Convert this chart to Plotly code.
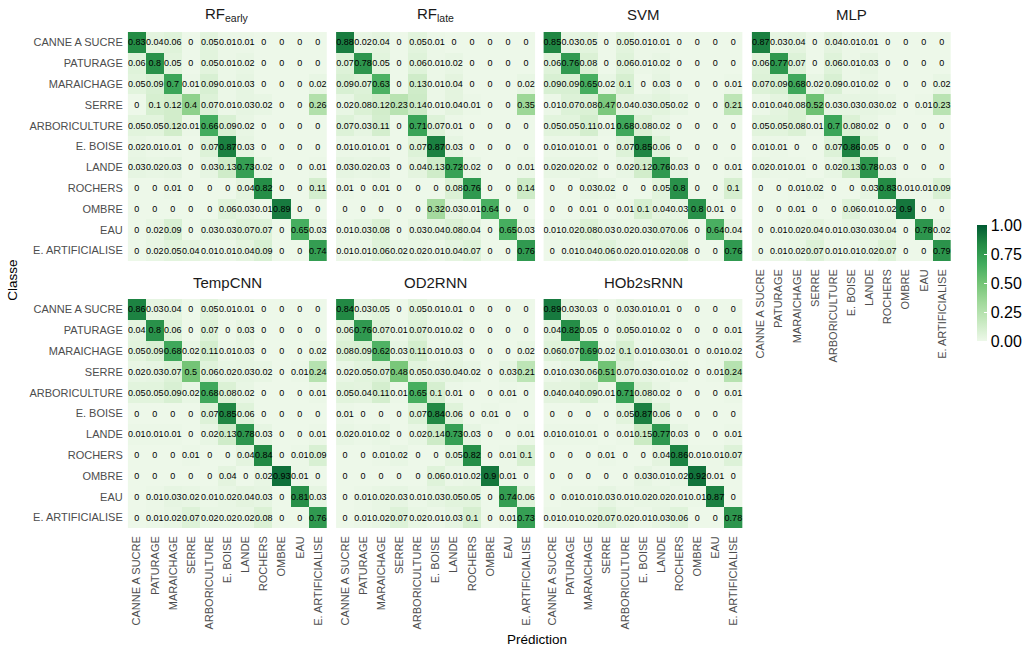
import plotly.graph_objects as go

classes = ["CANNE A SUCRE", "PATURAGE", "MARAICHAGE", "SERRE", "ARBORICULTURE",
           "E. BOISE", "LANDE", "ROCHERS", "OMBRE", "EAU", "E. ARTIFICIALISE"]

rf_early = [
    [0.83, 0.04, 0.06, 0, 0.05, 0.01, 0.01, 0, 0, 0, 0],
    [0.06, 0.8, 0.05, 0, 0.05, 0.01, 0.02, 0, 0, 0, 0],
    [0.05, 0.09, 0.7, 0.01, 0.09, 0.01, 0.03, 0, 0, 0, 0.02],
    [0, 0.1, 0.12, 0.4, 0.07, 0.01, 0.03, 0.02, 0, 0, 0.26],
    [0.05, 0.05, 0.12, 0.01, 0.66, 0.09, 0.02, 0, 0, 0, 0],
    [0.02, 0.01, 0.01, 0, 0.07, 0.87, 0.03, 0, 0, 0, 0],
    [0.03, 0.02, 0.03, 0, 0.03, 0.13, 0.73, 0.02, 0, 0, 0.01],
    [0, 0, 0.01, 0, 0, 0, 0.04, 0.82, 0, 0, 0.11],
    [0, 0, 0, 0, 0, 0.06, 0.03, 0.01, 0.89, 0, 0],
    [0, 0.02, 0.09, 0, 0.03, 0.03, 0.07, 0.07, 0, 0.65, 0.03],
    [0, 0.02, 0.05, 0.04, 0.01, 0.01, 0.04, 0.09, 0, 0, 0.74],
]

rf_late = [
    [0.88, 0.02, 0.04, 0, 0.05, 0.01, 0, 0, 0, 0, 0],
    [0.07, 0.78, 0.05, 0, 0.06, 0.01, 0.02, 0, 0, 0, 0],
    [0.09, 0.07, 0.63, 0, 0.13, 0.01, 0.04, 0, 0, 0, 0.02],
    [0.02, 0.08, 0.12, 0.23, 0.14, 0.01, 0.04, 0.01, 0, 0, 0.35],
    [0.07, 0.03, 0.11, 0, 0.71, 0.07, 0.01, 0, 0, 0, 0],
    [0.01, 0.01, 0.01, 0, 0.07, 0.87, 0.03, 0, 0, 0, 0],
    [0.03, 0.02, 0.03, 0, 0.04, 0.13, 0.72, 0.02, 0, 0, 0.01],
    [0.01, 0, 0.01, 0, 0, 0, 0.08, 0.76, 0, 0, 0.14],
    [0, 0, 0, 0, 0, 0.32, 0.03, 0.01, 0.64, 0, 0],
    [0.01, 0.03, 0.08, 0, 0.03, 0.04, 0.08, 0.04, 0, 0.65, 0.03],
    [0.01, 0.01, 0.06, 0.02, 0.02, 0.01, 0.04, 0.07, 0, 0, 0.76],
]

svm = [
    [0.85, 0.03, 0.05, 0, 0.05, 0.01, 0.01, 0, 0, 0, 0],
    [0.06, 0.76, 0.08, 0, 0.06, 0.01, 0.02, 0, 0, 0, 0],
    [0.09, 0.09, 0.65, 0.02, 0.1, 0, 0.03, 0, 0, 0, 0.01],
    [0.01, 0.07, 0.08, 0.47, 0.04, 0.03, 0.05, 0.02, 0, 0, 0.21],
    [0.05, 0.05, 0.11, 0.01, 0.68, 0.08, 0.02, 0, 0, 0, 0],
    [0.01, 0.01, 0.01, 0, 0.07, 0.85, 0.06, 0, 0, 0, 0],
    [0.02, 0.02, 0.02, 0, 0.02, 0.12, 0.76, 0.03, 0, 0, 0.01],
    [0, 0, 0.03, 0.02, 0, 0, 0.05, 0.8, 0, 0, 0.1],
    [0, 0, 0.01, 0, 0.01, 0.1, 0.04, 0.03, 0.8, 0.01, 0],
    [0.01, 0.02, 0.08, 0.03, 0.02, 0.03, 0.07, 0.06, 0, 0.64, 0.04],
    [0, 0.01, 0.04, 0.06, 0.02, 0.01, 0.02, 0.08, 0, 0, 0.76],
]

mlp = [
    [0.87, 0.03, 0.04, 0, 0.04, 0.01, 0.01, 0, 0, 0, 0],
    [0.06, 0.77, 0.07, 0, 0.06, 0.01, 0.03, 0, 0, 0, 0],
    [0.07, 0.09, 0.68, 0.02, 0.09, 0.01, 0.02, 0, 0, 0, 0.02],
    [0.01, 0.04, 0.08, 0.52, 0.03, 0.03, 0.03, 0.02, 0, 0.01, 0.23],
    [0.05, 0.05, 0.08, 0.01, 0.7, 0.08, 0.02, 0, 0, 0, 0],
    [0.01, 0.01, 0, 0, 0.07, 0.86, 0.05, 0, 0, 0, 0],
    [0.02, 0.01, 0.01, 0, 0.02, 0.13, 0.78, 0.03, 0, 0, 0],
    [0, 0, 0.01, 0.02, 0, 0, 0.03, 0.83, 0.01, 0.01, 0.09],
    [0, 0, 0.01, 0, 0, 0.06, 0.01, 0.02, 0.9, 0, 0],
    [0, 0.01, 0.02, 0.04, 0.01, 0.03, 0.03, 0.04, 0, 0.78, 0.02],
    [0, 0.01, 0.02, 0.07, 0.01, 0.01, 0.02, 0.07, 0, 0, 0.79],
]

tempcnn = [
    [0.86, 0.03, 0.04, 0, 0.05, 0.01, 0.01, 0, 0, 0, 0],
    [0.04, 0.8, 0.06, 0, 0.07, 0, 0.03, 0, 0, 0, 0],
    [0.05, 0.09, 0.68, 0.02, 0.11, 0.01, 0.03, 0, 0, 0, 0.02],
    [0.02, 0.03, 0.07, 0.5, 0.06, 0.02, 0.03, 0.02, 0, 0.01, 0.24],
    [0.05, 0.05, 0.09, 0.02, 0.68, 0.08, 0.02, 0, 0, 0, 0.01],
    [0, 0, 0, 0, 0.07, 0.85, 0.06, 0, 0, 0, 0],
    [0.01, 0.01, 0.01, 0, 0.02, 0.13, 0.78, 0.03, 0, 0, 0.01],
    [0, 0, 0, 0.01, 0, 0, 0.04, 0.84, 0, 0.01, 0.09],
    [0, 0, 0, 0, 0, 0.04, 0, 0.02, 0.93, 0.01, 0],
    [0, 0.01, 0.03, 0.02, 0.01, 0.02, 0.04, 0.03, 0, 0.81, 0.03],
    [0, 0.01, 0.02, 0.07, 0.02, 0.02, 0.02, 0.08, 0, 0, 0.76],
]

od2rnn = [
    [0.84, 0.03, 0.05, 0, 0.05, 0.01, 0.01, 0, 0, 0, 0],
    [0.06, 0.76, 0.07, 0.01, 0.07, 0.01, 0.02, 0, 0, 0, 0],
    [0.08, 0.09, 0.62, 0.03, 0.11, 0.01, 0.03, 0, 0, 0, 0.02],
    [0.02, 0.05, 0.07, 0.48, 0.05, 0.03, 0.04, 0.02, 0, 0.03, 0.21],
    [0.05, 0.04, 0.11, 0.01, 0.65, 0.1, 0.01, 0, 0, 0.01, 0],
    [0.01, 0, 0, 0, 0.07, 0.84, 0.06, 0, 0.01, 0, 0],
    [0.02, 0.01, 0.02, 0, 0.02, 0.14, 0.73, 0.03, 0, 0, 0.01],
    [0, 0, 0.01, 0.02, 0, 0, 0.05, 0.82, 0, 0.01, 0.1],
    [0, 0, 0, 0, 0, 0.06, 0.01, 0.02, 0.9, 0.01, 0],
    [0, 0.01, 0.02, 0.03, 0.01, 0.03, 0.05, 0.05, 0, 0.74, 0.06],
    [0, 0.01, 0.02, 0.07, 0.02, 0.01, 0.03, 0.1, 0, 0.01, 0.73],
]

hob2srnn = [
    [0.89, 0.03, 0.03, 0, 0.03, 0.01, 0.01, 0, 0, 0, 0],
    [0.04, 0.82, 0.05, 0, 0.05, 0.01, 0.02, 0, 0, 0, 0.01],
    [0.06, 0.07, 0.69, 0.02, 0.1, 0.01, 0.03, 0.01, 0, 0.01, 0.02],
    [0.01, 0.03, 0.06, 0.51, 0.07, 0.03, 0.01, 0.02, 0, 0.01, 0.24],
    [0.04, 0.04, 0.09, 0.01, 0.71, 0.08, 0.02, 0, 0, 0, 0.01],
    [0, 0, 0, 0, 0.05, 0.87, 0.06, 0, 0, 0, 0],
    [0.01, 0.01, 0.01, 0, 0.01, 0.15, 0.77, 0.03, 0, 0, 0.01],
    [0, 0, 0, 0.01, 0, 0, 0.04, 0.86, 0.01, 0.01, 0.07],
    [0, 0, 0, 0, 0, 0.03, 0.01, 0.02, 0.92, 0.01, 0],
    [0, 0.01, 0.01, 0.03, 0.01, 0.02, 0.02, 0.01, 0.01, 0.87, 0],
    [0.01, 0.01, 0.02, 0.07, 0.02, 0.01, 0.03, 0.06, 0, 0, 0.78],
]

model_titles = ["RF<sub>early</sub>", "RF<sub>late</sub>", "SVM", "MLP",
                "TempCNN", "OD2RNN", "HOb2sRNN"]
matrices = [rf_early, rf_late, svm, mlp, tempcnn, od2rnn, hob2srnn]

W, H = 1035, 649
FONT = "Liberation Sans, Arial, sans-serif"
greens = ["#EDF8E9", "#C7E9C0", "#A1D99B", "#74C476", "#41AB5D", "#238B45", "#005A32"]
colorscale = [[i / (len(greens) - 1), c] for i, c in enumerate(greens)]

# panel grid in pixels
col_left = [130, 342, 553, 765]
panel_w = 203
row_top = [32, 299]
panel_h = 229


def fx(px):
    return px / W


def fy(py):
    return 1 - py / H


fig = go.Figure()
layout_axes = {}

for k, (title, mat) in enumerate(zip(model_titles, matrices)):
    r, c = divmod(k, 4)
    idx = k + 1
    xa = "x" if idx == 1 else f"x{idx}"
    ya = "y" if idx == 1 else f"y{idx}"
    text = [[f"{v:g}" for v in row] for row in mat]
    fig.add_trace(go.Heatmap(
        z=mat, x=classes, y=classes, text=text,
        texttemplate="%{text}",
        textfont=dict(size=9, color="black", family=FONT),
        coloraxis="coloraxis", xaxis=xa, yaxis=ya,
        hoverinfo="skip", xgap=0, ygap=0,
    ))
    x0 = col_left[c]
    y0 = row_top[r]
    show_x = (r == 1) or (c == 3)
    show_y = (c == 0)
    xname = "xaxis" if idx == 1 else f"xaxis{idx}"
    yname = "yaxis" if idx == 1 else f"yaxis{idx}"
    layout_axes[xname] = dict(
        domain=[fx(x0), fx(x0 + panel_w)], anchor=ya,
        showticklabels=show_x, tickangle=-90, ticks="",
        ticklabelstandoff=5,
        tickfont=dict(size=11, color="#4D4D4D", family=FONT),
        showgrid=False, zeroline=False, showline=False,
        categoryorder="array", categoryarray=classes,
    )
    layout_axes[yname] = dict(
        domain=[fy(y0 + panel_h), fy(y0)], anchor=xa,
        showticklabels=show_y, ticks="",
        ticklabelstandoff=4,
        tickfont=dict(size=11, color="#4D4D4D", family=FONT),
        showgrid=False, zeroline=False, showline=False,
        categoryorder="array", categoryarray=classes[::-1],
    )
    fig.add_annotation(
        x=fx(x0 + panel_w / 2), y=fy(y0 - 17), xref="paper", yref="paper",
        text=title, showarrow=False, xanchor="center", yanchor="middle",
        font=dict(size=15, color="#1A1A1A", family=FONT),
    )

fig.update_layout(**layout_axes)

fig.add_annotation(
    x=fx(13), y=fy(280), xref="paper", yref="paper", text="Classe",
    textangle=-90, showarrow=False, xanchor="center", yanchor="middle",
    font=dict(size=13.5, color="black", family=FONT),
)
fig.add_annotation(
    x=fx(547), y=fy(639), xref="paper", yref="paper", text="Prédiction",
    showarrow=False, xanchor="center", yanchor="middle",
    font=dict(size=13.5, color="black", family=FONT),
)

fig.update_layout(
    width=W, height=H,
    margin=dict(l=0, r=0, t=0, b=0),
    paper_bgcolor="white", plot_bgcolor="white",
    font=dict(family=FONT),
    coloraxis=dict(
        colorscale=colorscale, cmin=0, cmax=1,
        colorbar=dict(
            x=fx(984), xanchor="left", y=fy(283), yanchor="middle",
            thickness=10, thicknessmode="pixels",
            len=136, lenmode="pixels",
            tickvals=[0, 0.25, 0.5, 0.75, 1.0],
            ticktext=["0.00", "0.25", "0.50", "0.75", "1.00"],
            ticks="inside", tickcolor="white", ticklen=3,
            outlinewidth=0,
            tickfont=dict(size=16, color="black", family=FONT),
        ),
    ),
)

fig.write_html("out.html")
